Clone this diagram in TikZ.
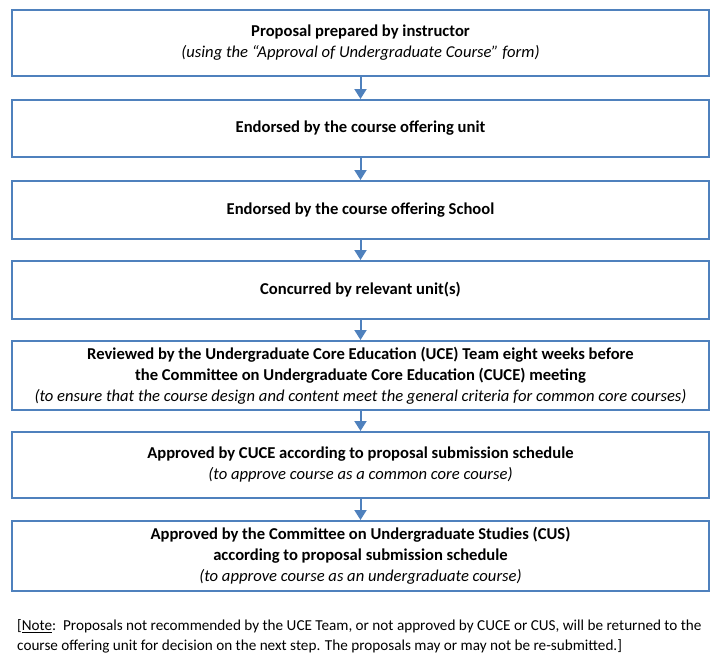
\documentclass[tikz,border=0pt]{standalone}
\usepackage{fontspec}
\setmainfont{Carlito}
\usepackage{tikz}
\usetikzlibrary{arrows.meta}
\usepackage{xcolor}
\definecolor{boxblue}{HTML}{4F81BD}

\begin{document}
\begin{tikzpicture}[x=1pt, y=-1pt]
						\tikzstyle{stepbox}=[
						draw=boxblue,
						line width=2pt,
						rectangle,
						minimum width=697pt,
						inner sep=0pt,
						align=center,
						font=\fontsize{16.6}{21}\selectfont
						]
						\tikzstyle{flow}=[
						draw=boxblue,
						line width=2pt,
						-{Triangle[width=12pt,length=10pt]}
						]
						\useasboundingbox (0,0) rectangle (720,662);
						\node[stepbox, minimum height=66pt] (PREP) at (360.5,43) {\textbf{Proposal prepared by instructor}\\ \textit{(using the “Approval of Undergraduate Course” form)}};
						\node[stepbox, minimum height=57pt] (UNIT) at (360.5,128.5) {\textbf{Endorsed by the course offering unit}};
						\node[stepbox, minimum height=58pt] (SCHOOL) at (360.5,210) {\textbf{Endorsed by the course offering School}};
						\node[stepbox, minimum height=58pt] (CONC) at (360.5,290) {\textbf{Concurred by relevant unit(s)}};
						\node[stepbox, minimum height=69pt] (UCE) at (360.5,375.5) {\textbf{Reviewed by the Undergraduate Core Education (UCE) Team eight weeks before}\\ \textbf{the Committee on Undergraduate Core Education (CUCE) meeting}\\ \textit{(to ensure that the course design and content meet the general criteria for common core courses)}};
						\node[stepbox, minimum height=66pt] (CUCE) at (360.5,465) {\textbf{Approved by CUCE according to proposal submission schedule}\\ \textit{(to approve course as a common core course)}};
						\node[stepbox, minimum height=70pt] (CUS) at (360.5,556) {\textbf{Approved by the Committee on Undergraduate Studies (CUS)}\\ \textbf{according to proposal submission schedule}\\ \textit{(to approve course as an undergraduate course)}};
						%
						\draw[flow] (PREP) -- (UNIT);
						\draw[flow] (UNIT) -- (SCHOOL);
						\draw[flow] (SCHOOL) -- (CONC);
						\draw[flow] (CONC) -- (UCE);
						\draw[flow] (UCE) -- (CUCE);
						\draw[flow] (CUCE) -- (CUS);
						%
						\node[anchor=north west, align=left, inner sep=0pt, font=\fontsize{15.2}{20}\selectfont] (NOTE) at (17,619) {[\underline{Note}:\ \ Proposals not recommended by the UCE Team, or not approved by CUCE or CUS, will be returned to the\\ course offering unit for decision on the next step. The proposals may or may not be re-submitted.]};
					\end{tikzpicture}
\end{document}
